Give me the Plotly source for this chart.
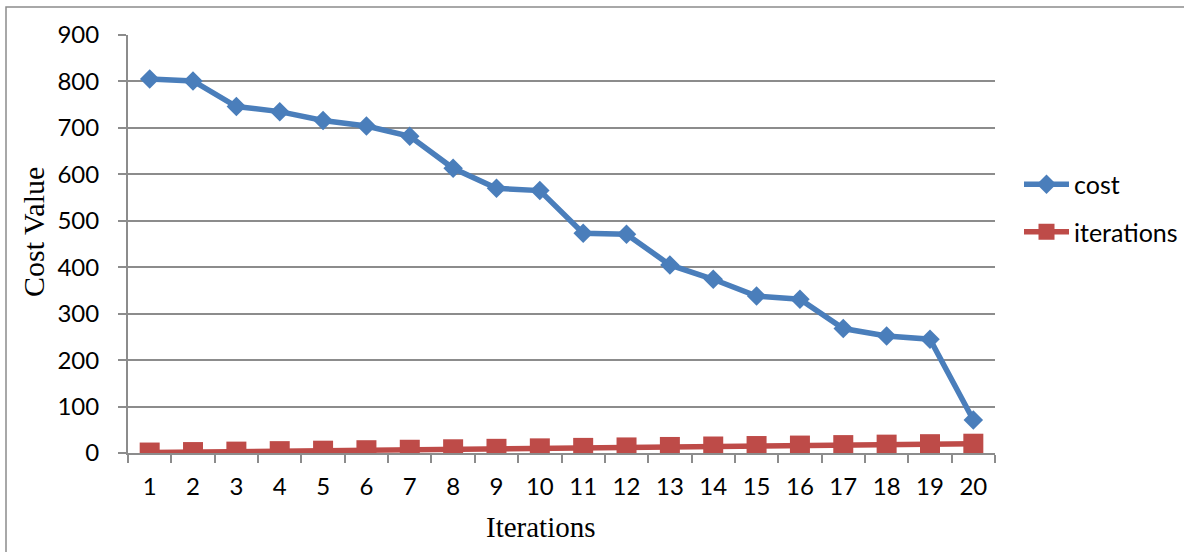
import plotly.graph_objects as go

# Cost per iteration and the iteration counter
iteration_labels = [str(i) for i in range(1, 21)]
cost = [805, 801, 746, 735, 716, 704, 682, 613, 570, 565,
        473, 471, 405, 374, 338, 331, 268, 252, 245, 71]
iterations = [1, 2, 3, 4, 5, 6, 7, 8, 9, 10,
              11, 12, 13, 14, 15, 16, 17, 18, 19, 20]
y_ticks = [0, 100, 200, 300, 400, 500, 600, 700, 800, 900]

BLUE = "#4A7EBB"
RED = "#BE4B48"
GRID = "#8C8C8C"
SANS = "Lato, Carlito, 'Open Sans', sans-serif"
SERIF = "'Liberation Serif', 'Times New Roman', serif"

# Plot-area geometry in pixels, used to place the frame and titles
L, R, T, B = 128, 995, 35, 453
W, H = R - L, B - T


def px_x(x):
    return (x - L) / W


def px_y(y):
    return (B - y) / H


fig = go.Figure()
fig.add_trace(go.Scatter(
    x=iteration_labels, y=cost, name="cost", mode="lines+markers",
    legendgroup="cost",
    line=dict(color=BLUE, width=5.5),
    marker=dict(symbol="diamond", size=15, color=BLUE),
))
fig.add_trace(go.Scatter(
    x=iteration_labels, y=iterations, name="iterations", mode="lines+markers",
    legendgroup="iterations",
    line=dict(color=RED, width=5.5),
    marker=dict(symbol="square", size=20, color=RED),
))

# Outer chart frame (left and top edges visible)
fig.add_shape(type="rect", xref="paper", yref="paper",
              x0=px_x(6), x1=px_x(1200), y0=px_y(570), y1=px_y(7),
              line=dict(color="#8C8C8C", width=1.5), layer="below")

# Axis titles
fig.add_annotation(text="Cost Value", xref="paper", yref="paper",
                   x=px_x(34), y=px_y(232), textangle=-90, showarrow=False,
                   xanchor="center", yanchor="middle",
                   font=dict(family=SERIF, size=30, color="black"))
fig.add_annotation(text="Iterations", xref="paper", yref="paper",
                   x=px_x(541), y=px_y(527), showarrow=False,
                   xanchor="center", yanchor="middle",
                   font=dict(family=SERIF, size=29, color="black"))

fig.update_layout(
    width=1184, height=552,
    margin=dict(l=L, r=1184 - R, t=T, b=552 - B, autoexpand=False),
    paper_bgcolor="white", plot_bgcolor="white",
    font=dict(family=SANS, size=24, color="black"),
    showlegend=True,
    legend=dict(x=px_x(1019), xanchor="left",
                y=px_y(208), yanchor="middle",
                font=dict(family=SANS, size=25),
                tracegroupgap=12, itemwidth=45,
                bgcolor="rgba(0,0,0,0)"),
    xaxis=dict(
        type="category", range=[-0.5, 19.5],
        showgrid=False, showline=True, linecolor=GRID, linewidth=2,
        ticks="outside", tickson="boundaries", ticklen=8,
        tickcolor=GRID, tickwidth=2, ticklabelstandoff=11,
        zeroline=False,
    ),
    yaxis=dict(
        range=[0, 900], tickvals=y_ticks,
        showgrid=True, gridcolor=GRID, gridwidth=2,
        showline=True, linecolor=GRID, linewidth=2,
        ticks="outside", ticklen=8, tickcolor=GRID, tickwidth=2,
        ticklabelstandoff=14, zeroline=False,
    ),
)

fig.write_html("out.html")
